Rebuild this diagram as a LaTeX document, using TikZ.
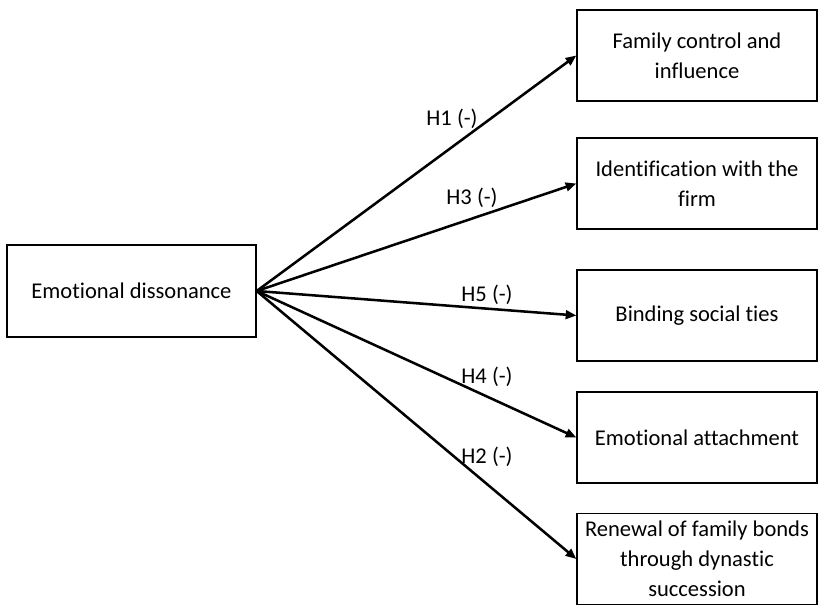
\documentclass[tikz,border=0pt]{standalone}
\usepackage{fontspec}
\setmainfont{Carlito}[Ligatures=NoCommon]
\usepackage{tikz}
\usetikzlibrary{arrows.meta,positioning}
\tikzset{
  conbox/.style={
    draw=black,line width=1pt,align=center,minimum height=91\unitpx,
    minimum width=240\unitpx,inner sep=2pt,font=\fontsize{16.9}{22.5}\selectfont
  },
  srcbox/.style={conbox,minimum width=249\unitpx,minimum height=92\unitpx},
  hyparrow/.style={-{Triangle[length=8pt,width=6.5pt]},line width=1.9pt,draw=black},
  hyplabel/.style={font=\fontsize{16.9}{18}\selectfont,inner sep=0pt}
}
\newlength{\unitpx}
\setlength{\unitpx}{0.75pt}

\begin{document}
\begin{tikzpicture}[x=0.75pt,y=-0.75pt]
  \useasboundingbox (0,0) rectangle (818,606);
  % source
  \node[srcbox] (dis) at (131.5,291) {Emotional dissonance};
  % outcomes
  \node[conbox] (fci) at (697,55.5) {Family control and\\influence};
  \node[conbox] (idf) at (697,183.5) {Identification with the\\firm};
  \node[conbox] (bst) at (697,315.5) {Binding social ties};
  \node[conbox] (eat) at (697,437.5) {Emotional attachment};
  \node[conbox] (ren) at (697,559) {Renewal of family bonds\\through dynastic\\succession};
  % hypotheses
  \draw[hyparrow] (dis.east) -- (fci.west);
  \draw[hyparrow] (dis.east) -- (idf.west);
  \draw[hyparrow] (dis.east) -- (bst.west);
  \draw[hyparrow] (dis.east) -- (eat.west);
  \draw[hyparrow] (dis.east) -- (ren.west);
  \node[hyplabel] (h1) at (452,119) {H1 (-)};
  \node[hyplabel] (h3) at (472,198) {H3 (-)};
  \node[hyplabel] (h5) at (487,295) {H5 (-)};
  \node[hyplabel] (h4) at (487,377) {H4 (-)};
  \node[hyplabel] (h2) at (487,457) {H2 (-)};
\end{tikzpicture}
\end{document}
